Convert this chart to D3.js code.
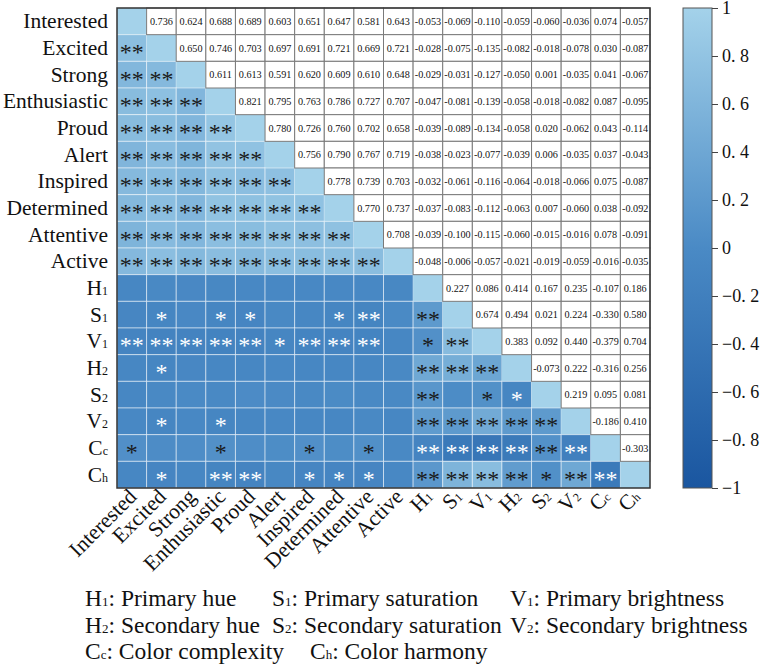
<!DOCTYPE html>
<html>
<head>
  <meta charset="utf-8">
  <script src="https://d3js.org/d3.v7.min.js"></script>
  <style>
    body { margin: 0; background: #fff; }
    text { font-family: "Liberation Serif", "Times New Roman", serif; fill: #111; }
  </style>
</head>
<body>
<div id="chart"></div>
<script>
// variable names: base text + small subscript
var varBase = ["Interested","Excited","Strong","Enthusiastic","Proud","Alert","Inspired","Determined","Attentive","Active","H","S","V","H","S","V","C","C"];
var varSub  = ["","","","","","","","","","","1","1","1","2","2","2","c","h"];

// upper triangle correlations, row i holds columns i+1 .. 17
var upperRows = [
  [0.736,0.624,0.688,0.689,0.603,0.651,0.647,0.581,0.643,-0.053,-0.069,-0.110,-0.059,-0.060,-0.036,0.074,-0.057],
  [0.650,0.746,0.703,0.697,0.691,0.721,0.669,0.721,-0.028,-0.075,-0.135,-0.082,-0.018,-0.078,0.030,-0.087],
  [0.611,0.613,0.591,0.620,0.609,0.610,0.648,-0.029,-0.031,-0.127,-0.050,0.001,-0.035,0.041,-0.067],
  [0.821,0.795,0.763,0.786,0.727,0.707,-0.047,-0.081,-0.139,-0.058,-0.018,-0.082,0.087,-0.095],
  [0.780,0.726,0.760,0.702,0.658,-0.039,-0.089,-0.134,-0.058,0.020,-0.062,0.043,-0.114],
  [0.756,0.790,0.767,0.719,-0.038,-0.023,-0.077,-0.039,0.006,-0.035,0.037,-0.043],
  [0.778,0.739,0.703,-0.032,-0.061,-0.116,-0.064,-0.018,-0.066,0.075,-0.087],
  [0.770,0.737,-0.037,-0.083,-0.112,-0.063,0.007,-0.060,0.038,-0.092],
  [0.708,-0.039,-0.100,-0.115,-0.060,-0.015,-0.016,0.078,-0.091],
  [-0.048,-0.006,-0.057,-0.021,-0.019,-0.059,-0.016,-0.035],
  [0.227,0.086,0.414,0.167,0.235,-0.107,0.186],
  [0.674,0.494,0.021,0.224,-0.330,0.580],
  [0.383,0.092,0.440,-0.379,0.704],
  [-0.073,0.222,-0.316,0.256],
  [0.219,0.095,0.081],
  [-0.186,0.410],
  [-0.303],
  []
];

// significance marks in the lower triangle, row i holds columns 0 .. i-1
var starRows = [
  [],
  ["**"],
  ["**","**"],
  ["**","**","**"],
  ["**","**","**","**"],
  ["**","**","**","**","**"],
  ["**","**","**","**","**","**"],
  ["**","**","**","**","**","**","**"],
  ["**","**","**","**","**","**","**","**"],
  ["**","**","**","**","**","**","**","**","**"],
  ["","","","","","","","","",""],
  ["","*","","*","*","","","*","**","","**"],
  ["**","**","**","**","**","*","**","**","**","","*","**"],
  ["","*","","","","","","","","","**","**","**"],
  ["","","","","","","","","","","**","","*","*"],
  ["","*","","*","","","","","","","**","**","**","**","**"],
  ["*","","","*","","","*","","*","","**","**","**","**","**","**"],
  ["","*","","**","**","","*","*","*","","**","**","**","**","*","**","**"]
];

var colorTicks = [1, 0.8, 0.6, 0.4, 0.2, 0, -0.2, -0.4, -0.6, -0.8, -1];

var legendRows = [
  [["H","1",": Primary hue"],["S","1",": Primary saturation"],["V","1",": Primary brightness"]],
  [["H","2",": Secondary hue"],["S","2",": Secondary saturation"],["V","2",": Secondary brightness"]],
  [["C","c",": Color complexity"],["C","h",": Color harmony"]]
];

var W = 767, H = 666;
var mLeft = 117, mTop = 8, gw = 533, gh = 480;
var n = varBase.length;
var idx = d3.range(n);

var svg = d3.select("#chart").append("svg").attr("width", W).attr("height", H);

var x = d3.scaleBand().domain(idx).range([mLeft, mLeft + gw]);
var y = d3.scaleBand().domain(idx).range([mTop, mTop + gh]);
var color = d3.scaleLinear().domain([-1, 0, 1]).range(["#1a56a0", "#4a8ac5", "#a4d2ea"]);

function corr(i, j) {
  if (i === j) return 1;
  var a = Math.min(i, j), b = Math.max(i, j);
  return upperRows[a][b - a - 1];
}

var cells = [];
idx.forEach(function(i) {
  idx.forEach(function(j) {
    cells.push({ r: i, c: j, v: corr(i, j), star: j < i ? starRows[i][j] : "" });
  });
});

var g = svg.append("g");

// lower triangle + diagonal coloured cells
g.selectAll("rect.low")
  .data(cells.filter(function(d) { return d.c <= d.r; }))
  .enter().append("rect")
    .attr("x", function(d) { return x(d.c); })
    .attr("y", function(d) { return y(d.r); })
    .attr("width", x.bandwidth())
    .attr("height", y.bandwidth())
    .attr("fill", function(d) { return color(d.v); })
    .attr("stroke", function(d) { return d.c === d.r ? "none" : "rgba(255,255,255,0.5)"; })
    .attr("stroke-width", 1);

// upper triangle white cells
g.selectAll("rect.up")
  .data(cells.filter(function(d) { return d.c > d.r; }))
  .enter().append("rect")
    .attr("x", function(d) { return x(d.c); })
    .attr("y", function(d) { return y(d.r); })
    .attr("width", x.bandwidth())
    .attr("height", y.bandwidth())
    .attr("fill", "#fff")
    .attr("stroke", "#7a7a7a")
    .attr("stroke-width", 1);

g.selectAll("text.val")
  .data(cells.filter(function(d) { return d.c > d.r; }))
  .enter().append("text")
    .attr("x", function(d) { return x(d.c) + x.bandwidth() / 2; })
    .attr("y", function(d) { return y(d.r) + y.bandwidth() / 2 + 3.5; })
    .attr("text-anchor", "middle")
    .style("font-size", "10.2px")
    .text(function(d) { return d3.format(".3f")(d.v).replace("−", "-"); });

g.selectAll("text.star")
  .data(cells.filter(function(d) { return d.star; }))
  .enter().append("text")
    .attr("x", function(d) { return x(d.c) + x.bandwidth() / 2; })
    .attr("y", function(d) { return y(d.r) + y.bandwidth() / 2 + 12; })
    .attr("text-anchor", "middle")
    .style("font-size", "24px")
    .style("fill", function(d) { return d.v < 0 ? "#ffffff" : "#1a1a1a"; })
    .text(function(d) { return d.star; });

// outer frame
g.append("rect")
  .attr("x", mLeft).attr("y", mTop).attr("width", gw).attr("height", gh)
  .attr("fill", "none").attr("stroke", "#333").attr("stroke-width", 1.5);

// row labels
var rowLab = svg.append("g").selectAll("text")
  .data(idx).enter().append("text")
    .attr("x", mLeft - 9)
    .attr("y", function(i) { return y(i) + y.bandwidth() / 2 + 7; })
    .attr("text-anchor", "end")
    .style("font-size", "21.5px");
rowLab.append("tspan").text(function(i) { return varBase[i]; });
rowLab.append("tspan")
  .style("font-size", "12px")
  .text(function(i) { return varSub[i]; });

// column labels, rotated
var colLab = svg.append("g").selectAll("text")
  .data(idx).enter().append("text")
    .attr("transform", function(i) {
      return "translate(" + (x(i) + x.bandwidth() / 2 + 6) + "," + (mTop + gh + 10) + ") rotate(-45)";
    })
    .attr("text-anchor", "end")
    .style("font-size", "21.5px");
colLab.append("tspan").text(function(i) { return varBase[i]; });
colLab.append("tspan")
  .style("font-size", "12px")
  .text(function(i) { return varSub[i]; });

// colour bar
var cbX = 683, cbW = 29;
var cbScale = d3.scaleLinear().domain([-1, 1]).range([mTop + gh, mTop]);
var grad = svg.append("defs").append("linearGradient")
  .attr("id", "cb").attr("x1", 0).attr("y1", 1).attr("x2", 0).attr("y2", 0);
grad.selectAll("stop").data(color.domain()).enter().append("stop")
  .attr("offset", function(d) { return (d + 1) / 2; })
  .attr("stop-color", function(d) { return color(d); });
svg.append("rect")
  .attr("x", cbX).attr("y", mTop).attr("width", cbW).attr("height", gh)
  .attr("fill", "url(#cb)").attr("stroke", "#555").attr("stroke-width", 1);

var cbAxis = svg.append("g")
  .attr("transform", "translate(" + (cbX + cbW) + ",0)")
  .call(d3.axisRight(cbScale).tickValues(colorTicks).tickSize(6).tickPadding(4)
    .tickFormat(function(d) {
      if (d === 0) return "0";
      var s = d3.format(".1~f")(Math.abs(d)).replace(".", ". ");
      return (d < 0 ? "\u2212" : "") + s;
    }));
cbAxis.select(".domain").remove();
cbAxis.selectAll(".tick line").attr("stroke", "#444");
cbAxis.selectAll(".tick text")
  .style("font-family", "'Liberation Serif', serif")
  .style("font-size", "18px")
  .attr("fill", "#111");

// legend text below
var legX = [85, 272, 510];
var legX3 = [85, 310];
var legY = [606, 633, 659];
legendRows.forEach(function(row, ri) {
  row.forEach(function(item, k) {
    var t = svg.append("text")
      .attr("x", ri === 2 ? legX3[k] : legX[k])
      .attr("y", legY[ri])
      .style("font-size", "23.5px");
    t.append("tspan").text(item[0]);
    t.append("tspan").style("font-size", "13px").text(item[1]);
    t.append("tspan").text(item[2]);
  });
});
</script>
</body>
</html>
